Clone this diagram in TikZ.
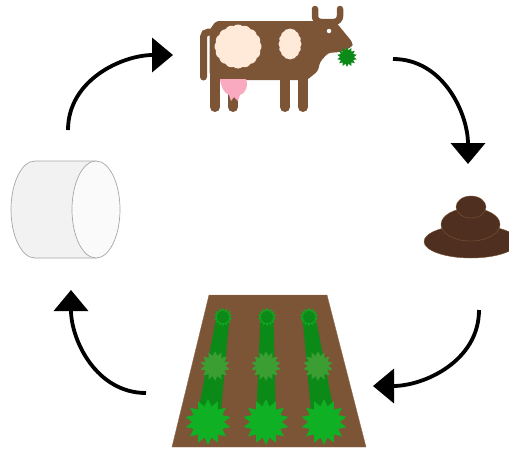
\documentclass[tikz,border=0pt]{standalone}
\usetikzlibrary{arrows.meta,shapes.geometric,shapes.symbols}
\definecolor{hide}{HTML}{7C5436}
\definecolor{dung}{HTML}{4F3020}
\definecolor{spot}{HTML}{FFE9D9}
\definecolor{udder}{HTML}{F9A9C0}
\definecolor{sprout}{HTML}{0C8A18}
\definecolor{plant}{HTML}{3A9E32}
\definecolor{crop}{HTML}{10B024}
\tikzset{
  cyclearrow/.style={line width=3.8pt,-{Triangle[length=21pt,width=34pt]}},
  leg/.style={hide,line width=10pt,line cap=round},
  sprig/.style={star,star points=14,star point ratio=1.45,inner sep=0pt,draw=none},
  patch/.style={cloud,cloud puffs=16,cloud puff arc=80,cloud ignores aspect,fill=spot,inner sep=0pt}
}
\begin{document}
\begin{tikzpicture}[x=1pt,y=1pt]
  \useasboundingbox (0,0) rectangle (509,-448);
  % Cow
  \fill[hide,rounded corners=3pt] (209.5,-75) -- (209.5,-30) -- (216,-21) -- (335,-21) -- (353,-43) -- (352,-47) -- (340,-52) -- (328,-53) -- (320,-62) -- (318,-71) -- (307,-80) -- (220,-80) -- cycle;
  \draw[hide,line width=6.5pt,line cap=round,rounded corners=6pt] (315,-9) -- (315,-22) -- (340,-22) -- (340,-9);
  \draw[hide,line width=7pt,line cap=round,rounded corners=5pt] (203.5,-77) -- (203.5,-32) -- (214,-32);
  \foreach \x in {215,233,285,303} \draw[leg] (\x,-70) -- (\x,-107);
  \node[patch,minimum width=47pt,minimum height=44pt] (bigpatch) at (238,-46.5) {};
  \node[patch,minimum width=23pt,minimum height=31pt] (smallpatch) at (290,-44) {};
  \node[circle,fill=white,inner sep=0pt,minimum size=4.5pt] (eye) at (329,-31) {};
  \fill[udder] (220,-79) -- (246,-79) .. controls (249,-88) and (244,-94) .. (240,-95) -- (238,-101) -- (234,-97) -- (231,-101) -- (229,-95) .. controls (224,-93) and (221,-87) .. (220,-79);
  \node[sprig,fill=sprout,minimum size=20pt] (grass) at (347,-57) {};

  % Dung
  \node[ellipse,fill=dung,draw=hide,inner sep=0pt,minimum width=94pt,minimum height=33pt] (dunglow) at (471,-241.5) {};
  \node[ellipse,fill=dung,draw=hide,inner sep=0pt,minimum width=59pt,minimum height=33pt] (dungmid) at (470.5,-224.5) {};
  \node[ellipse,fill=dung,draw=hide,inner sep=0pt,minimum width=30pt,minimum height=22pt] (dungtop) at (471,-207) {};

  % Field
  \draw[hide!85!white,fill=hide] (209,-295) -- (327,-295) -- (366,-447) -- (172,-447) -- cycle;
  \foreach \i/\xa/\xb/\xc/\w in {1/223/215/208/12,2/267/266/266/10,3/309/318/324/12} {
    \fill[sprout] (\xa-6.5,-317) -- (\xa+6.5,-317) -- (\xc+\w,-422) -- (\xc-\w,-422) -- cycle;
    \node[sprig,fill=crop!70!sprout,minimum size=19pt] (top\i) at (\xa,-317) {};
    \node[circle,fill=sprout,inner sep=0pt,minimum size=12pt] (core\i) at (\xa,-317) {};
    \node[sprig,fill=plant,minimum size=30pt] (mid\i) at (\xb,-366) {};
    \node[sprig,fill=crop,minimum size=46pt] (low\i) at (\xc,-422) {};
  }

  % Bale
  \draw[gray!70,line width=0.7pt,fill=gray!10] (96,-161) -- (35,-161) arc[start angle=90,end angle=270,x radius=24,y radius=48.5] -- (96,-258) -- cycle;
  \node[ellipse,draw=gray!70,line width=0.7pt,fill=gray!4,inner sep=0pt,minimum width=48pt,minimum height=97pt] (bale) at (96,-209.5) {};

  % Arrows
  \coordinate (balestart) at (68,-130);
  \coordinate (cowend) at (173,-55);
  \coordinate (cowstart) at (393,-59);
  \coordinate (dungend) at (468,-164);
  \coordinate (dungstart) at (479,-310);
  \coordinate (fieldend) at (373,-386);
  \coordinate (fieldstart) at (146,-393);
  \coordinate (baleend) at (71,-290);
  \draw[cyclearrow] (balestart) to[out=90,in=180] (cowend);
  \draw[cyclearrow] (cowstart) to[out=0,in=90] (dungend);
  \draw[cyclearrow] (dungstart) to[out=-90,in=0] (fieldend);
  \draw[cyclearrow] (fieldstart) to[out=180,in=-90] (baleend);
\end{tikzpicture}
\end{document}
